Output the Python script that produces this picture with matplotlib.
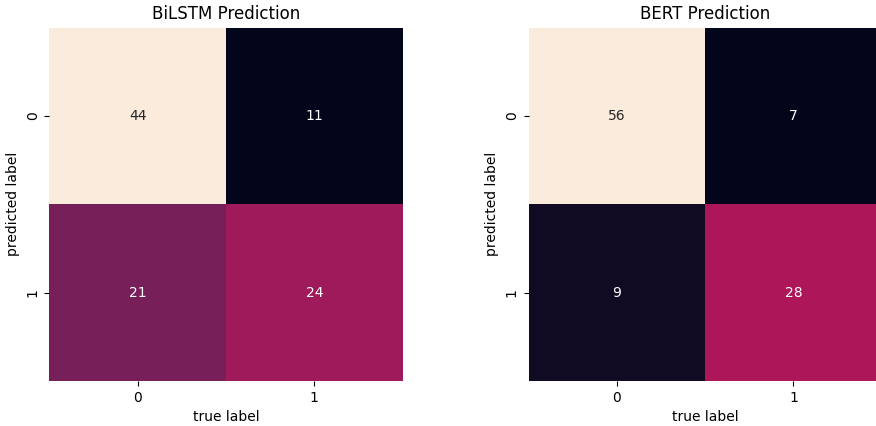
import numpy as np
import matplotlib
matplotlib.use("Agg")
import matplotlib.pyplot as plt
import seaborn as sns

# confusion matrices (rows: predicted label, cols: true label)
labels = [0, 1]
bilstm_cm = np.array([[44, 11],
                      [21, 24]])
bert_cm = np.array([[56, 7],
                    [9, 28]])

fig = plt.figure(figsize=(8.76, 4.26), dpi=100)
ax1 = fig.add_axes([0.056, 0.106, 0.404, 0.829])
ax2 = fig.add_axes([0.603, 0.106, 0.404, 0.829])

for ax, cm, title in [(ax1, bilstm_cm, "BiLSTM Prediction"),
                      (ax2, bert_cm, "BERT Prediction")]:
    sns.heatmap(cm, annot=True, fmt="d", cbar=False, square=True,
                xticklabels=labels, yticklabels=labels, ax=ax)
    ax.set_title(title, fontsize=12)
    ax.set_xlabel("true label")
    ax.set_ylabel("predicted label")

fig.savefig("out.png", dpi=100)
